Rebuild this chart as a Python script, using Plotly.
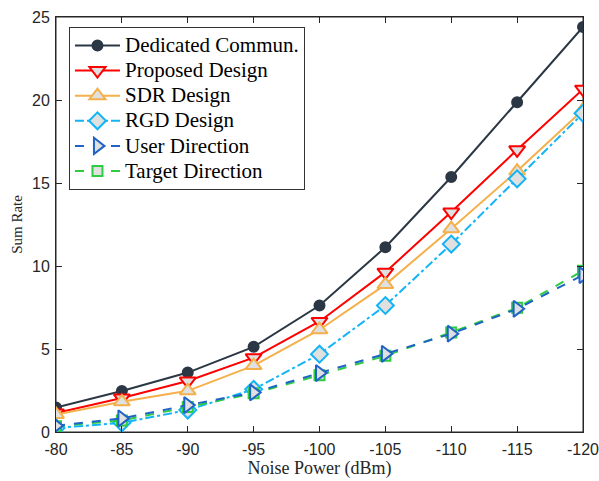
import plotly.graph_objects as go

noise = [-80, -85, -90, -95, -100, -105, -110, -115, -120]
dedicated = [1.47, 2.47, 3.58, 5.13, 7.62, 11.13, 15.36, 19.86, 24.4]
proposed = [1.15, 2.05, 3.07, 4.48, 6.66, 9.63, 13.25, 17.0, 20.65]
sdr = [1.06, 1.82, 2.48, 4.0, 6.16, 8.88, 12.25, 15.72, 19.4]
rgd = [0.24, 0.55, 1.32, 2.57, 4.69, 7.62, 11.32, 15.25, 19.2]
user_dir = [0.38, 0.82, 1.62, 2.38, 3.55, 4.71, 5.92, 7.42, 9.45]
target_dir = [0.35, 0.7, 1.5, 2.33, 3.42, 4.59, 6.0, 7.48, 9.72]

x_ticks = [-80, -85, -90, -95, -100, -105, -110, -115, -120]
y_ticks = [0, 5, 10, 15, 20, 25]

fill = "#e0e0e0"
# (name, values, color, dash, symbol, size, fill, legend rank)
series = [
    ("Dedicated Commun.", dedicated, "#2b3744", "solid", "circle", 10, "#2b3744", 1),
    ("Proposed Design", proposed, "#ff0000", "solid", "triangle-down", 14, fill, 2),
    ("SDR Design", sdr, "#f4b04a", "solid", "triangle-up", 14, fill, 3),
    ("RGD Design", rgd, "#12b4f5", "dashdot", "diamond", 13, fill, 4),
    ("Target Direction", target_dir, "#2ecc40", "dash", "square", 10, fill, 6),
    ("User Direction", user_dir, "#1f63c6", "dash", "triangle-right", 14, fill, 5),
]

serif = "Liberation Serif, Times New Roman, serif"
sans = "Liberation Sans, Arial, sans-serif"
axis_color = "#262626"

fig = go.Figure()
for name, ys, color, dash, sym, size, fc, rank in series:
    fig.add_trace(go.Scatter(
        x=noise, y=ys, name='<span style="font-size:21px">' + name + '</span>',
        mode="lines+markers", legendrank=rank,
        line=dict(color=color, width=2, dash=dash),
        marker=dict(symbol=sym, size=size, color=fc, line=dict(color=color, width=2)),
    ))

# axes box frame
fig.add_shape(type="rect", xref="paper", yref="paper", x0=0, y0=0, x1=1, y1=1,
              line=dict(color=axis_color, width=1), layer="below")

fig.update_layout(
    width=599, height=481,
    margin=dict(l=56, r=16, t=17, b=49),
    paper_bgcolor="white", plot_bgcolor="white",
    showlegend=True,
    legend=dict(
        x=0.0246, y=0.976, xanchor="left", yanchor="top",
        bgcolor="white", bordercolor="#333333", borderwidth=1,
        font=dict(family=serif, size=17, color="black"),
        traceorder="normal", itemwidth=45,
    ),
    font=dict(family=sans, size=16, color=axis_color),
)
fig.update_xaxes(
    range=[-80, -120], tickvals=x_ticks, ticktext=[str(v) for v in x_ticks],
    showgrid=False, zeroline=False, showline=True, linecolor=axis_color, linewidth=1,
    mirror="ticks", ticks="inside", ticklen=6, tickcolor=axis_color,
    ticklabeloverflow="allow", automargin=False, ticklabelstandoff=3,
    title=dict(text="Noise Power (dBm)", font=dict(family=serif, size=18, color=axis_color), standoff=4),
)
fig.update_yaxes(
    range=[0, 25], tickvals=y_ticks,
    showgrid=False, zeroline=False, showline=True, linecolor=axis_color, linewidth=1,
    mirror="ticks", ticks="inside", ticklen=6, tickcolor=axis_color,
    ticklabeloverflow="allow", automargin=False, ticklabelstandoff=2,
    title=dict(text="Sum Rate", font=dict(family=serif, size=15, color=axis_color), standoff=5),
)

fig.write_html("out.html", config={"displayModeBar": False},
               post_script="document.body.style.margin='0';")
